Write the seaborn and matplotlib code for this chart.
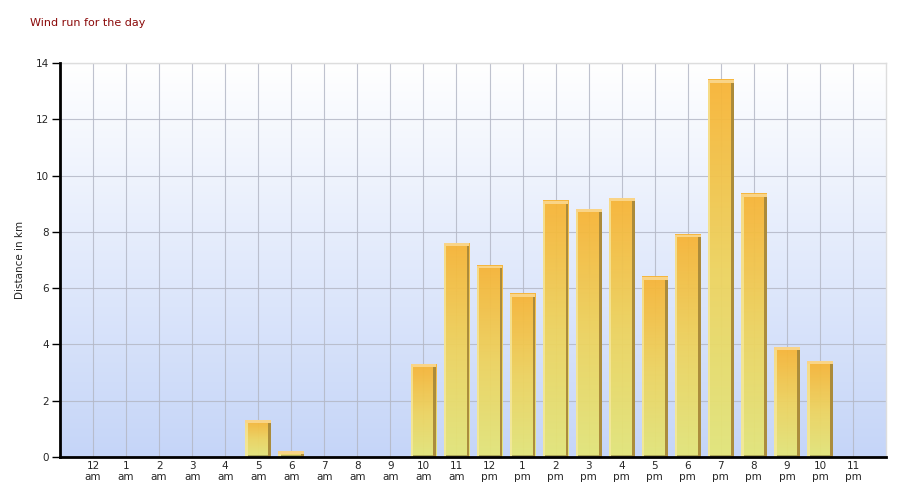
import numpy as np
import pandas as pd
import matplotlib
matplotlib.use('Agg')
import matplotlib.pyplot as plt
import seaborn as sns
from matplotlib.colors import LinearSegmentedColormap
from matplotlib.patches import Rectangle

# hourly wind run (km)
hours = ['12', '1', '2', '3', '4', '5', '6', '7', '8', '9', '10', '11',
         '12', '1', '2', '3', '4', '5', '6', '7', '8', '9', '10', '11']
periods = ['am'] * 12 + ['pm'] * 12
distance = [0, 0, 0, 0, 0, 1.3, 0.2, 0, 0, 0, 3.3, 7.6,
            6.8, 5.8, 9.1, 8.8, 9.2, 6.4, 7.9, 13.4, 9.35, 3.9, 3.4, 0]
y_ticks = [0, 2, 4, 6, 8, 10, 12, 14]

labels = [h + '\n' + p for h, p in zip(hours, periods)]
df = pd.DataFrame({'hour': labels, 'km': distance})

sns.set_style('white')
plt.rcParams['font.family'] = ['DejaVu Sans']

fig = plt.figure(figsize=(9, 5), dpi=100)
ax = fig.add_axes([60 / 900, 43 / 500, 826 / 900, 394 / 500])

sns.barplot(data=df, x='hour', y='km', order=labels, width=0.78,
            color='#F3BE45', ax=ax, zorder=3)

# background gradient white -> light blue
bg = LinearSegmentedColormap.from_list('bg', ['#C5D5F8', '#FFFFFF'])
ax.imshow(np.linspace(0, 1, 256).reshape(-1, 1), cmap=bg, aspect='auto',
          extent=[0, 1, 0, 1], transform=ax.transAxes, zorder=0, origin='lower')

bar_cmap = LinearSegmentedColormap.from_list('bar', ['#E3E67A', '#EED35E', '#F7B436'])
grad = np.linspace(0, 1, 128).reshape(-1, 1)
for p in list(ax.patches):
    x, w, h = p.get_x(), p.get_width(), p.get_height()
    p.set_alpha(0)
    if h <= 0:
        continue
    ax.imshow(grad, cmap=bar_cmap, aspect='auto', origin='lower',
              extent=[x, x + w, 0, h], zorder=3, alpha=0.95)
    # left highlight
    ax.add_patch(Rectangle((x, 0), w * 0.1, h, color='#F7EBA5', alpha=0.7, zorder=4, lw=0))
    # right shadow
    ax.add_patch(Rectangle((x + w * 0.89, 0), w * 0.11, h - 0.04, color='#A8893A', alpha=0.95, zorder=4, lw=0))
    # top cap
    ax.add_patch(Rectangle((x, h - 0.1), w, 0.1, color='#F9D487', zorder=5, lw=0))
    # bottom shadow
    ax.add_patch(Rectangle((x + w * 0.1, 0), w * 0.79, min(0.06, h), color='#A09A50', alpha=0.8, zorder=4, lw=0))

ax.set_xlim(-1, 24)
ax.set_ylim(0, 14)
ax.set_yticks(y_ticks)
ax.set_yticklabels([str(t) for t in y_ticks], fontsize=7.5)
ax.set_xticks(range(24))
ax.set_xticklabels(labels, fontsize=7.5, linespacing=1.1)
ax.tick_params(axis='x', length=0, pad=3)
ax.tick_params(axis='y', length=6, width=1, direction='out', pad=2, left=True, color='black')

ax.grid(True, color='#B4B8C6', linewidth=0.8, alpha=0.85, zorder=1)
ax.set_axisbelow(True)

for s in ['top', 'right']:
    ax.spines[s].set_color('#DDDDDD')
    ax.spines[s].set_linewidth(1)
ax.spines['left'].set_color('black')
ax.spines['left'].set_linewidth(2)
ax.spines['bottom'].set_color('black')
ax.spines['bottom'].set_linewidth(2)
ax.spines['left'].set_zorder(6)
ax.spines['bottom'].set_zorder(6)

ax.set_xlabel('')
ax.set_ylabel('Distance in km', fontsize=7.5, labelpad=8)

fig.text(30 / 900, 1 - 23 / 500, 'Wind run for the day', color='#8B0A0A',
         fontsize=8, va='center', ha='left')

fig.savefig('out.png', dpi=100)
